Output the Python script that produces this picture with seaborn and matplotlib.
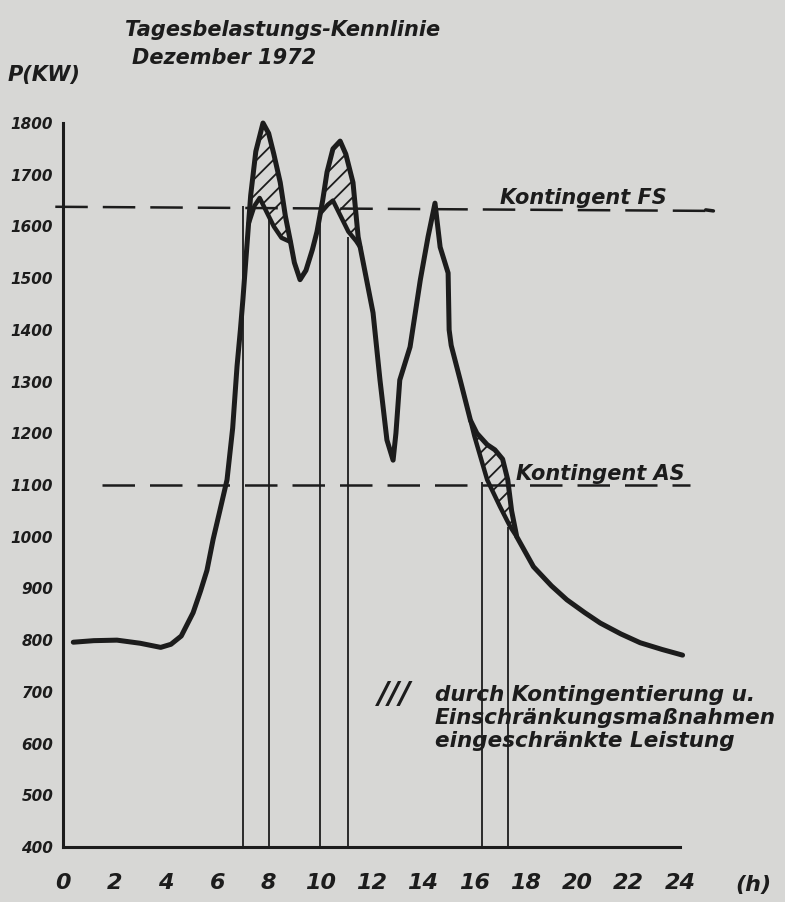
import numpy as np
import pandas as pd
import matplotlib
matplotlib.use("Agg")
import matplotlib.pyplot as plt
import seaborn as sns

# --- daten ---
stunden = [0.4, 1.2, 2.1, 3.0, 3.8, 4.2, 4.6, 5.06, 5.35, 5.6, 5.84, 6.1, 6.38, 6.6,
           6.77, 6.9, 7.0, 7.15, 7.3, 7.5, 7.78, 8.0, 8.2, 8.45, 8.65, 8.85, 9.0,
           9.22, 9.45, 9.7, 9.88, 10.1, 10.27, 10.5, 10.78, 11.0, 11.28, 11.48,
           11.56, 12.06, 12.33, 12.6, 12.84, 12.95, 13.1, 13.5, 13.9, 14.2, 14.47,
           14.67, 14.98, 15.02, 15.1, 15.45, 15.85, 16.1, 16.5, 16.8, 17.1, 17.3,
           17.45, 17.65, 18.3, 19.0, 19.6, 20.3, 20.9, 21.7, 22.45, 23.3, 24.1]
last_kw = [796, 799, 800, 794, 786, 792, 808, 853, 895, 935, 995, 1050, 1110, 1210,
           1330, 1400, 1460, 1560, 1660, 1745, 1800, 1780, 1740, 1685, 1620, 1570, 1530,
           1497, 1515, 1555, 1590, 1650, 1705, 1750, 1765, 1740, 1685, 1580,
           1560, 1433, 1303, 1187, 1148, 1200, 1303, 1367, 1497, 1580, 1645,
           1560, 1510, 1400, 1370, 1303, 1225, 1200, 1178, 1168, 1150, 1110,
           1050, 1000, 942, 905, 878, 853, 833, 812, 795, 782, 771]

# eingeschraenkte leistung (untere kurve der schraffierten flaechen)
abschnitt_1_h = [7.22, 7.45, 7.65, 7.9, 8.2, 8.5, 8.85]
abschnitt_1_kw = [1605, 1640, 1655, 1630, 1600, 1578, 1570]
abschnitt_2_h = [10.0, 10.3, 10.5, 10.8, 11.1, 11.4, 11.56]
abschnitt_2_kw = [1625, 1642, 1650, 1620, 1590, 1572, 1560]
abschnitt_3_h = [15.85, 16.0, 16.5, 17.0, 17.4, 17.65]
abschnitt_3_kw = [1225, 1195, 1110, 1058, 1019, 1000]

kontingent_fs = 1638
kontingent_as = 1100

senkrechte_h = [7.0, 8.0, 10.0, 11.1, 16.3, 17.3]
senkrechte_oben = [1640, 1615, 1628, 1580, 1106, 1019]

x_ticks = list(range(0, 25, 2))
y_ticks = list(range(400, 1801, 100))

# --- stil ---
PAPIER = "#d7d7d5"
TINTE = "#1c1c1c"
sns.set_theme(style="white", rc={"figure.facecolor": PAPIER, "axes.facecolor": PAPIER,
                                 "hatch.linewidth": 1.3, "hatch.color": TINTE})
plt.rcParams["font.family"] = ["DejaVu Sans"]

fig = plt.figure(figsize=(7.85, 9.02), dpi=100)
ax = fig.add_axes([63 / 785, 1 - 847 / 902, 617 / 785, 724 / 902])
ax.set_xlim(0, 24)
ax.set_ylim(400, 1800)

abschnitte = [(abschnitt_1_h, abschnitt_1_kw), (abschnitt_2_h, abschnitt_2_kw),
              (abschnitt_3_h, abschnitt_3_kw)]

# schraffierte flaechen
for hh, kw in abschnitte:
    grid = np.linspace(hh[0], hh[-1], 60)
    oben = np.interp(grid, stunden, last_kw)
    unten = np.interp(grid, hh, kw)
    ax.fill_between(grid, unten, oben, facecolor="none", edgecolor=TINTE,
                    hatch="//", linewidth=0)

# senkrechte linien
ax.vlines(senkrechte_h, 400, senkrechte_oben, color=TINTE, linewidth=1.3)

# kontingente
ax.plot([-0.3, 25.3], [kontingent_fs, kontingent_fs - 8], color=TINTE, lw=1.8,
        linestyle=(0, (13, 6)), clip_on=False)
ax.plot([25.0, 25.3], [kontingent_fs - 6, kontingent_fs - 8], color=TINTE, lw=2.5,
        clip_on=False)
ax.plot([1.5, 24.4], [kontingent_as, kontingent_as], color=TINTE, lw=1.8,
        linestyle=(0, (13, 6)), clip_on=False)

# hauptkurve
df = pd.DataFrame({"h": stunden, "kw": last_kw})
sns.lineplot(data=df, x="h", y="kw", ax=ax, color=TINTE, linewidth=3.6,
             sort=False, clip_on=False, solid_capstyle="round", solid_joinstyle="round")
for hh, kw in abschnitte:
    ax.plot(hh, kw, color=TINTE, linewidth=3.2, solid_capstyle="round",
            solid_joinstyle="round")

# achsen
sns.despine(ax=ax)
for s in ["left", "bottom"]:
    ax.spines[s].set_linewidth(2.2)
    ax.spines[s].set_color(TINTE)
ax.set_xticks(x_ticks)
ax.set_yticks(y_ticks)
ax.set_xticklabels([str(t) for t in x_ticks], fontsize=16, style="italic",
                   fontweight="bold", color=TINTE)
ax.set_yticklabels([str(t) for t in y_ticks], fontsize=11, style="italic",
                   fontweight="bold", color=TINTE)
ax.tick_params(axis="x", direction="out", length=9, width=1.8, color=TINTE, pad=10)
ax.tick_params(axis="y", direction="out", length=6, width=1.8, color=TINTE, pad=1)
ax.set_xlabel("")
ax.set_ylabel("")

txt = dict(style="italic", color=TINTE, fontweight="bold")
fig.text(125 / 785, 1 - 30 / 902, "Tagesbelastungs-Kennlinie", fontsize=15, va="center", **txt)
fig.text(132 / 785, 1 - 58 / 902, "Dezember 1972", fontsize=15, va="center", **txt)
fig.text(8 / 785, 1 - 75 / 902, "P(KW)", fontsize=15, va="center", **txt)
fig.text(735 / 785, 1 - 885 / 902, "(h)", fontsize=16, va="center", **txt)
fig.text(500 / 785, 1 - 198 / 902, "Kontingent FS", fontsize=15, va="center", **txt)
fig.text(516 / 785, 1 - 474 / 902, "Kontingent AS", fontsize=15, va="center", **txt)
fig.text(378 / 785, 1 - 694 / 902, "///", fontsize=22, va="center", **txt)
fig.text(435 / 785, 1 - 718 / 902,
         "durch Kontingentierung u.\nEinschränkungsmaßnahmen\neingeschränkte Leistung",
         fontsize=15.5, va="center", linespacing=1.2, **txt)

fig.savefig("out.png", dpi=100, facecolor=PAPIER)
